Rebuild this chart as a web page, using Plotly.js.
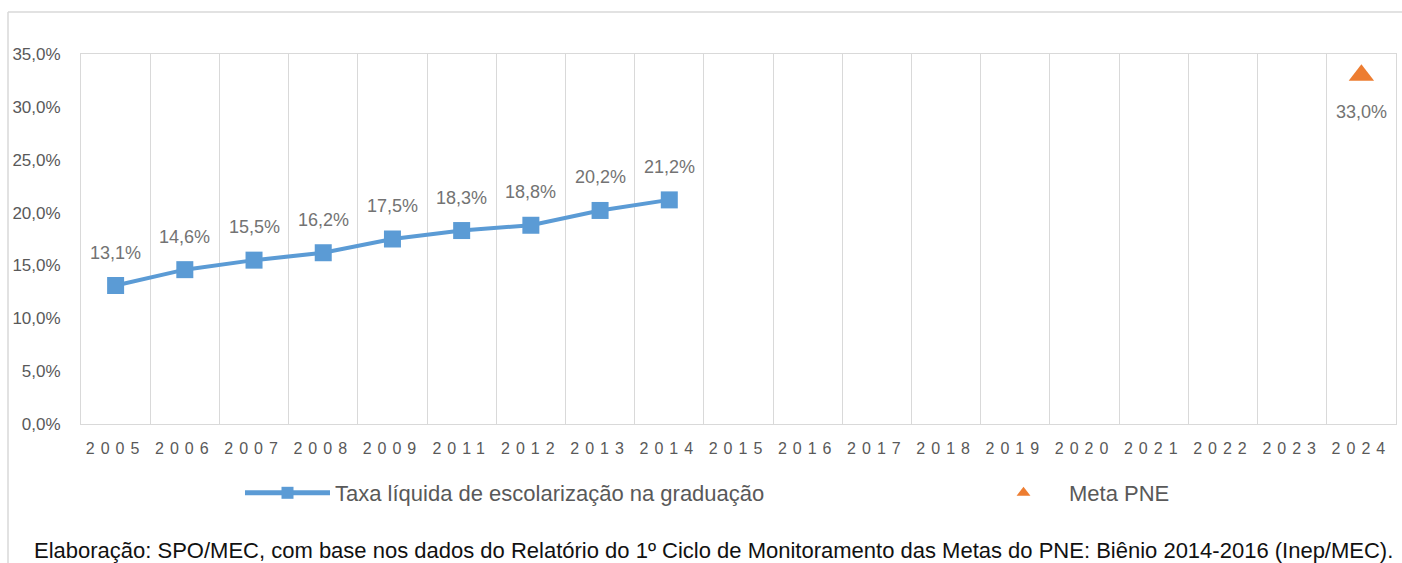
<!DOCTYPE html>
<html>
<head>
<meta charset="utf-8">
<script src="https://cdn.plot.ly/plotly-3.0.1.min.js"></script>
<style>
  html, body { margin: 0; padding: 0; background: #fff; }
  #chart { width: 1402px; height: 563px; }
  .xtick text { letter-spacing: 6px; }
</style>
</head>
<body>
<div id="chart"></div>
<script>
// ---- data ----
const categories = ['2005','2006','2007','2008','2009','2011','2012','2013','2014','2015','2016','2017','2018','2019','2020','2021','2022','2023','2024'];
const taxaYears = ['2005','2006','2007','2008','2009','2011','2012','2013','2014'];
const taxaValues = [13.1, 14.6, 15.5, 16.2, 17.5, 18.3, 18.8, 20.2, 21.2];
const metaYears = ['2024'];
const metaValues = [33.0];
const taxaName = 'Taxa líquida de escolarização na graduação';
const metaName = 'Meta PNE';
const footnote = 'Elaboração: SPO/MEC, com base nos dados do Relatório do 1º Ciclo de Monitoramento das Metas do PNE: Biênio 2014-2016 (Inep/MEC).';

const fmt = v => v.toFixed(1).replace('.', ',') + '%';
const FONT = 'Liberation Sans, Arial, sans-serif';
const GREY = '#595959';
const LABEL = '#737373';
const GRID = '#d9d9d9';

const traces = [
  {
    type: 'scatter', mode: 'lines+markers', name: taxaName,
    x: taxaYears, y: taxaValues,
    line: {color: '#5b9bd5', width: 4},
    marker: {symbol: 'square', size: 17, color: '#5b9bd5'},
    legend: 'legend', hoverinfo: 'x+y'
  },
  {
    type: 'scatter', mode: 'markers', name: metaName,
    x: metaYears, y: metaValues,
    marker: {symbol: 'triangle-up', size: 22, color: '#ed7d31'},
    legend: 'legend2', hoverinfo: 'x+y'
  }
];

const annotations = [];
taxaYears.forEach((yr, i) => annotations.push({
  x: categories.indexOf(yr), y: taxaValues[i], xref: 'x', yref: 'y', text: fmt(taxaValues[i]),
  showarrow: false, yshift: 33, font: {family: FONT, size: 18, color: LABEL}
}));
metaYears.forEach((yr, i) => annotations.push({
  x: categories.indexOf(yr), y: metaValues[i], xref: 'x', yref: 'y', text: fmt(metaValues[i]),
  showarrow: false, yshift: -37, font: {family: FONT, size: 18, color: LABEL}
}));
annotations.push({
  xref: 'paper', yref: 'paper', x: 0.9992, y: -0.343, xanchor: 'right', yanchor: 'middle',
  text: footnote, showarrow: false, font: {family: FONT, size: 22, color: '#111111'}
});

const layout = {
  width: 1402, height: 563,
  margin: {l: 81, r: 6, t: 54, b: 139},
  paper_bgcolor: '#fff', plot_bgcolor: '#fff',
  separators: ',.',
  font: {family: FONT, color: GREY},
  xaxis: {
    type: 'category', categoryorder: 'array', categoryarray: categories,
    range: [-0.5, categories.length - 0.5],
    tickson: 'boundaries', showgrid: true, gridcolor: GRID, gridwidth: 1,
    showline: true, mirror: true, linecolor: GRID, linewidth: 1,
    ticks: '', ticklabelstandoff: 10,
    tickfont: {family: FONT, size: 16, color: GREY},
    zeroline: false, fixedrange: true
  },
  yaxis: {
    range: [0, 35], dtick: 5, tick0: 0, tickformat: '.1f', ticksuffix: '%',
    showgrid: false, zeroline: false,
    showline: true, mirror: true, linecolor: GRID, linewidth: 1,
    ticks: '', ticklabelstandoff: 16,
    tickfont: {family: FONT, size: 17, color: GREY}, fixedrange: true
  },
  showlegend: true,
  legend: {
    orientation: 'h', xref: 'container', yref: 'container',
    x: 240 / 1402, y: 1 - 493 / 563, xanchor: 'left', yanchor: 'middle',
    itemwidth: 85, itemsizing: 'constant',
    font: {family: FONT, size: 22, color: GREY}, bgcolor: 'rgba(0,0,0,0)'
  },
  legend2: {
    orientation: 'h', xref: 'container', yref: 'container',
    x: 978 / 1402, y: 1 - 493 / 563, xanchor: 'left', yanchor: 'middle',
    itemwidth: 81, itemsizing: 'constant',
    font: {family: FONT, size: 22, color: GREY}, bgcolor: 'rgba(0,0,0,0)'
  },
  shapes: [
    {type: 'line', xref: 'paper', yref: 'paper', x0: (8 - 81) / 1315, x1: 1.1, y0: (424 - 12) / 370, y1: (424 - 12) / 370, line: {color: GRID, width: 1.5}},
    {type: 'line', xref: 'paper', yref: 'paper', x0: (8 - 81) / 1315, x1: (8 - 81) / 1315, y0: (424 - 12) / 370, y1: -0.5, line: {color: GRID, width: 1.5}}
  ],
  annotations: annotations
};

Plotly.newPlot('chart', traces, layout, {displayModeBar: false, staticPlot: true});
</script>
</body>
</html>
